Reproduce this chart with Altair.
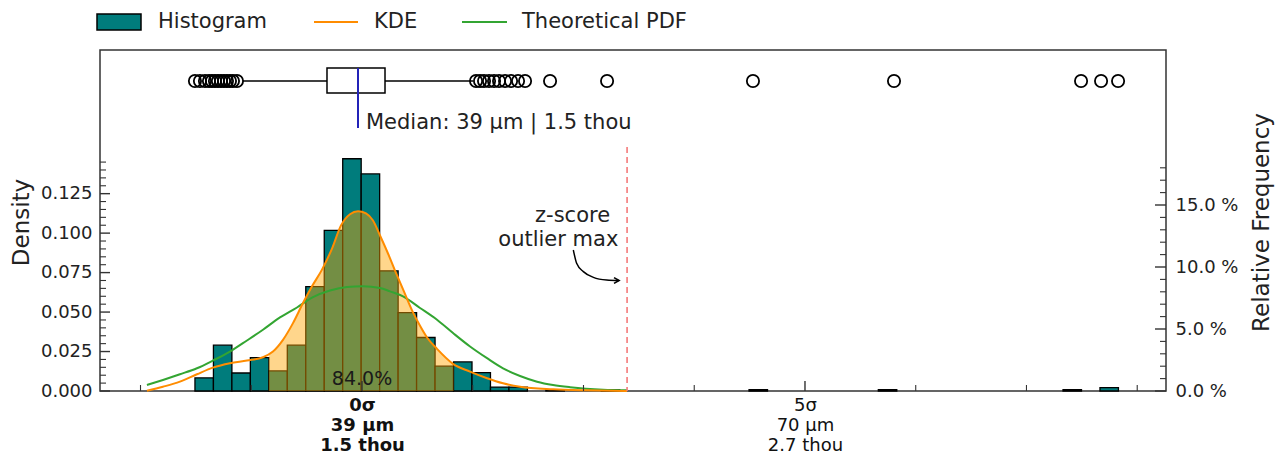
import json
import pandas as pd
import altair as alt

# ---------------- data ----------------
bin_lo = [27.310, 28.603, 29.895, 31.188, 32.480, 33.773, 35.065, 36.358, 37.650, 38.943,
          40.235, 41.528, 42.820, 44.113, 45.405, 46.698, 47.990, 49.283, 51.868, 55.745,
          66.085, 75.133, 88.058, 90.643]
bin_hi = [28.603, 29.895, 31.188, 32.480, 33.773, 35.065, 36.358, 37.650, 38.943, 40.235,
          41.528, 42.820, 44.113, 45.405, 46.698, 47.990, 49.283, 50.575, 53.160, 57.038,
          67.378, 76.425, 89.350, 91.935]
bin_density = [0.0083, 0.0290, 0.0114, 0.0212, 0.0127, 0.0290, 0.0661, 0.1017, 0.1471, 0.1375,
               0.0761, 0.0496, 0.0339, 0.0157, 0.0184, 0.0117, 0.0025, 0.0025, 0.0008, 0.0008,
               0.0009, 0.0009, 0.0009, 0.0022]

kde_x = [23.95, 25.07, 26.26, 27.45, 28.57, 29.76, 30.95, 32.07, 32.77, 33.47,
         34.17, 34.87, 35.50, 36.20, 36.90, 37.53, 38.16, 38.72, 39.28, 39.77,
         40.26, 40.82, 41.31, 41.94, 42.57, 43.06, 43.55, 44.25, 45.37, 46.56,
         47.75, 48.87, 50.06, 52.37, 54.75, 57.55]
kde_y = [0.0002, 0.0027, 0.0059, 0.0106, 0.0148, 0.0176, 0.0193, 0.0214, 0.0250, 0.0324,
         0.0430, 0.0557, 0.0663, 0.0769, 0.0902, 0.1049, 0.1120, 0.1139, 0.1125, 0.1080,
         0.0985, 0.0871, 0.0763, 0.0629, 0.0498, 0.0413, 0.0339, 0.0267, 0.0172, 0.0123,
         0.0081, 0.0049, 0.0027, 0.0011, 0.0004, 0.0000]

fill_x = [32.48, 32.77, 33.47, 34.17, 34.87, 35.50, 36.20, 36.90, 37.53, 38.16, 38.72, 39.28,
          39.77, 40.26, 40.82, 41.31, 41.94, 42.57, 43.06, 43.55, 44.25, 45.37, 45.405]
fill_y = [0.0236, 0.0250, 0.0324, 0.0430, 0.0557, 0.0663, 0.0769, 0.0902, 0.1049, 0.1120, 0.1139,
          0.1125, 0.1080, 0.0985, 0.0871, 0.0763, 0.0629, 0.0498, 0.0413, 0.0339, 0.0267,
          0.0172, 0.0170]

pdf_x = [23.95, 25.07, 26.26, 27.45, 28.57, 29.76, 30.95, 32.07, 33.26, 34.45,
         35.57, 36.76, 37.95, 39.07, 40.26, 40.96, 41.87, 43.06, 44.25, 45.37,
         46.56, 47.75, 48.87, 50.06, 51.25, 52.37, 53.56, 55.87, 57.55]
pdf_y = [0.0038, 0.0070, 0.0106, 0.0144, 0.0193, 0.0250, 0.0320, 0.0388, 0.0466, 0.0529,
         0.0595, 0.0637, 0.0659, 0.0663, 0.0653, 0.0631, 0.0599, 0.0526, 0.0451, 0.0367,
         0.0282, 0.0208, 0.0144, 0.0095, 0.0059, 0.0038, 0.0024, 0.0008, 0.0004]

box_q1 = 36.55
box_q3 = 40.61
box_median = 38.72
whisker_lo = 30.67
whisker_hi = 46.77
fliers = [27.31, 27.66, 28.01, 28.29, 28.50, 28.71, 28.92, 29.13, 29.34, 29.55, 29.76, 29.97, 30.25,
          46.98, 47.26, 47.54, 47.89, 48.24, 48.59, 49.01, 49.43, 49.92, 50.41, 52.16, 56.15,
          66.36, 76.23, 89.32, 90.72, 91.91]
median_label = "Median: 39 µm | 1.5 thou"

zscore_max = 57.55
zscore_line_top = 0.1545
zscore_text = ["z-score", "outlier max"]
zscore_text_x = [56.36, 56.94]
zscore_text_y = [0.1070, 0.0918]
arrow_x = [53.79, 54.02, 54.49, 55.19, 56.12, 56.99]
arrow_y = [0.0893, 0.0809, 0.0756, 0.0720, 0.0703, 0.0700]

pct_label = ["84.0%"]
pct_x = [39.0]
pct_y = [0.0038]

x_tick_vals = [39.0, 70.0]
x_tick_lines = [["0σ", "39 µm", "1.5 thou"], ["5σ", "70 µm", "2.7 thou"]]
x_minor = [23.5, 31.25, 46.75, 54.5, 62.25, 77.75, 85.5, 93.25]
y_major = [0.0, 0.025, 0.05, 0.075, 0.1, 0.125]
y_minor = [0.005, 0.010, 0.015, 0.020, 0.030, 0.035, 0.040, 0.045, 0.055, 0.060, 0.065, 0.070,
           0.080, 0.085, 0.090, 0.095, 0.105, 0.110, 0.115, 0.120, 0.130, 0.135, 0.140, 0.145]
r_major = [0, 5, 10, 15]
r_minor = [1, 2, 3, 4, 6, 7, 8, 9, 11, 12, 13, 14, 16, 17, 18]

legend_labels = ["Histogram", "KDE", "Theoretical PDF"]

# ---------------- layout / style ----------------
W, H = 1066, 341
XDOM = [20.665, 95.264]
YDOM = [0, 0.216]
RDOM = [0, 27.5]
TEAL = "#007c7c"
KDE_C = "#ff8c00"
FILL_C = "#ffa500"
PDF_C = "#33a532"
RED = "#f47a7a"
BLUE = "#2323b8"
INK = "#222222"

xs = alt.Scale(domain=XDOM, nice=False, zero=False)
ys = alt.Scale(domain=YDOM, nice=False, zero=True)
rs = alt.Scale(domain=RDOM, nice=False, zero=True)

parts = []
for v, lines in zip(x_tick_vals, x_tick_lines):
    parts.append(f"abs(datum.value - {v}) < 0.01 ? {json.dumps(lines, ensure_ascii=False)}")
x_label_expr = " : ".join(parts) + " : ''"
bold_cond = {"condition": {"test": f"abs(datum.value - {x_tick_vals[0]}) < 0.01", "value": "bold"},
             "value": "normal"}

AX_X = alt.Axis(values=x_tick_vals, labelExpr=x_label_expr, ticks=False, domain=False, grid=False,
                labelFontSize=18, labelLineHeight=20, labelPadding=5, labelFontWeight=bold_cond,
                labelColor="#111111", title="")
AX_Y = alt.Axis(values=y_major, format=".3f", ticks=False, domain=False, grid=False,
                labelFontSize=18, labelColor=INK, labelPadding=8,
                title="Density", titleFontSize=23, titleFontWeight="normal", titleColor=INK,
                titleAngle=270, titleX=-72, titleY=172, titleBaseline="alphabetic", titleAlign="center")
AX_R = alt.Axis(orient="right", values=r_major, labelExpr="format(datum.value, '.1f') + ' %'",
                ticks=False, domain=False, grid=False, labelFontSize=18, labelColor=INK, labelPadding=9,
                title="Relative Frequency", titleFontSize=23, titleFontWeight="normal", titleColor=INK,
                titleAngle=270, titleX=102, titleY=172, titleBaseline="alphabetic", titleAlign="center")


def X(f):
    return alt.X(f, type="quantitative", scale=xs, axis=AX_X)


def Y(f):
    return alt.Y(f, type="quantitative", scale=ys, axis=AX_Y)


def R(f):
    return alt.Y(f, type="quantitative", scale=rs, axis=AX_R)


hist_df = pd.DataFrame({"lo": bin_lo, "hi": bin_hi, "d": bin_density})
hist = alt.Chart(hist_df).mark_rect(color=TEAL, stroke="black", strokeWidth=1.3).encode(
    x=X("lo"), x2="hi:Q", y=Y("d"), y2=alt.datum(0))

fill = alt.Chart(pd.DataFrame({"x": fill_x, "d": fill_y})).mark_area(
    color=FILL_C, opacity=0.45, interpolate="monotone").encode(x=X("x"), y=Y("d"))

pdf_line = alt.Chart(pd.DataFrame({"x": pdf_x, "d": pdf_y})).mark_line(
    color=PDF_C, strokeWidth=2, interpolate="monotone").encode(x=X("x"), y=Y("d"))

kde_line = alt.Chart(pd.DataFrame({"x": kde_x, "d": kde_y})).mark_line(
    color=KDE_C, strokeWidth=2, interpolate="monotone").encode(x=X("x"), y=Y("d"))

zline = alt.Chart(pd.DataFrame({"x": [zscore_max], "top": [zscore_line_top]})).mark_rule(
    color=RED, strokeWidth=1.6, strokeDash=[6, 4]).encode(x=X("x"), y=Y("top"), y2=alt.datum(0))

ztext = alt.Chart(pd.DataFrame({"x": zscore_text_x, "y": zscore_text_y, "t": zscore_text})).mark_text(
    align="right", baseline="alphabetic", fontSize=21, color=INK).encode(x=X("x"), y=Y("y"), text="t:N")

arrow = alt.Chart(pd.DataFrame({"x": arrow_x, "y": arrow_y})).mark_line(
    color="black", strokeWidth=1.5, interpolate="monotone").encode(x=X("x"), y=Y("y"))
arrow_head = alt.Chart(pd.DataFrame({"x": arrow_x[-1:], "y": arrow_y[-1:]})).mark_point(
    shape="M -1.6 -0.9 L 0 0 L -1.6 0.9", filled=False, color="black", strokeWidth=1.6,
    size=40, opacity=1).encode(x=X("x"), y=Y("y"))

pct = alt.Chart(pd.DataFrame({"x": pct_x, "y": pct_y, "t": pct_label})).mark_text(
    align="center", baseline="alphabetic", fontSize=19, color="#1a1a1a").encode(
    x=X("x"), y=Y("y"), text="t:N")

# inward ticks
tick_c = "#333333"
ly_major = alt.Chart(pd.DataFrame({"v": y_major})).mark_rule(color=tick_c, strokeWidth=1.4).encode(
    y=Y("v"), x=alt.value(0), x2=alt.value(10))
ly_minor = alt.Chart(pd.DataFrame({"v": y_minor})).mark_rule(color=tick_c, strokeWidth=1.1).encode(
    y=Y("v"), x=alt.value(0), x2=alt.value(6))
bx_major = alt.Chart(pd.DataFrame({"v": x_tick_vals})).mark_rule(color=tick_c, strokeWidth=1.4).encode(
    x=X("v"), y=alt.value(H), y2=alt.value(H - 10))
bx_minor = alt.Chart(pd.DataFrame({"v": x_minor})).mark_rule(color=tick_c, strokeWidth=1.1).encode(
    x=X("v"), y=alt.value(H), y2=alt.value(H - 6))

# box plot strip (top)
BOX_Y0, BOX_Y1, BOX_YC = 18, 43, 31
box_df = pd.DataFrame({"q1": [box_q1], "q3": [box_q3], "med": [box_median],
                       "wlo": [whisker_lo], "whi": [whisker_hi], "label": [median_label]})
whisk1 = alt.Chart(box_df).mark_rule(color="black", strokeWidth=1.5).encode(
    x=X("wlo"), x2="q1:Q", y=alt.value(BOX_YC))
whisk2 = alt.Chart(box_df).mark_rule(color="black", strokeWidth=1.5).encode(
    x=X("q3"), x2="whi:Q", y=alt.value(BOX_YC))
box = alt.Chart(box_df).mark_rect(fill="white", stroke="black", strokeWidth=1.5).encode(
    x=X("q1"), x2="q3:Q", y=alt.value(BOX_Y0), y2=alt.value(BOX_Y1))
med = alt.Chart(box_df).mark_rule(color=BLUE, strokeWidth=2).encode(
    x=X("med"), y=alt.value(BOX_Y0), y2=alt.value(78))
med_text = alt.Chart(box_df).mark_text(align="left", baseline="alphabetic", dx=8, fontSize=21,
                                       color=INK).encode(x=X("med"), y=alt.value(79), text="label:N")
fl = alt.Chart(pd.DataFrame({"v": fliers})).mark_point(
    shape="circle", filled=False, color="black", size=150, strokeWidth=1.8, opacity=1).encode(
    x=X("v"), y=alt.value(BOX_YC))

# legend (manual)
leg_df = pd.DataFrame({"t": legend_labels})
leg_patch = alt.Chart(leg_df.iloc[[0]]).mark_rect(fill=TEAL, stroke="black", strokeWidth=1.5).encode(
    x=alt.value(-3), x2=alt.value(41), y=alt.value(-36), y2=alt.value(-20))
leg_kde = alt.Chart(leg_df.iloc[[1]]).mark_rule(color=KDE_C, strokeWidth=2).encode(
    x=alt.value(214), x2=alt.value(258), y=alt.value(-28))
leg_pdf = alt.Chart(leg_df.iloc[[2]]).mark_rule(color=PDF_C, strokeWidth=2).encode(
    x=alt.value(362), x2=alt.value(407), y=alt.value(-28))
leg_t1 = alt.Chart(leg_df.iloc[[0]]).mark_text(align="left", baseline="middle", fontSize=21, color=INK).encode(
    x=alt.value(58), y=alt.value(-28), text="t:N")
leg_t2 = alt.Chart(leg_df.iloc[[1]]).mark_text(align="left", baseline="middle", fontSize=21, color=INK).encode(
    x=alt.value(274), y=alt.value(-28), text="t:N")
leg_t3 = alt.Chart(leg_df.iloc[[2]]).mark_text(align="left", baseline="middle", fontSize=21, color=INK).encode(
    x=alt.value(422), y=alt.value(-28), text="t:N")

left = alt.layer(hist, fill, pdf_line, kde_line, zline, ztext, arrow, arrow_head, pct,
                 ly_major, ly_minor, bx_major, bx_minor,
                 whisk1, whisk2, box, med, med_text, fl,
                 leg_patch, leg_kde, leg_pdf, leg_t1, leg_t2, leg_t3)

r_major_ch = alt.Chart(pd.DataFrame({"v": r_major})).mark_rule(color=tick_c, strokeWidth=1.4).encode(
    y=R("v"), x=alt.value(W - 11), x2=alt.value(W))
r_minor_ch = alt.Chart(pd.DataFrame({"v": r_minor})).mark_rule(color=tick_c, strokeWidth=1.1).encode(
    y=R("v"), x=alt.value(W - 6), x2=alt.value(W))
right = alt.layer(r_major_ch, r_minor_ch)

chart = alt.layer(left, right).resolve_scale(y="independent").properties(
    width=W, height=H,
    padding={"left": 92, "top": 42, "right": 109, "bottom": 63},
    autosize=alt.AutoSizeParams(type="none"),
).configure(font="DejaVu Sans", background="white").configure_view(stroke="#333333", strokeWidth=1.5)

chart.save("out.html", embed_options={"renderer": "svg", "actions": False})
